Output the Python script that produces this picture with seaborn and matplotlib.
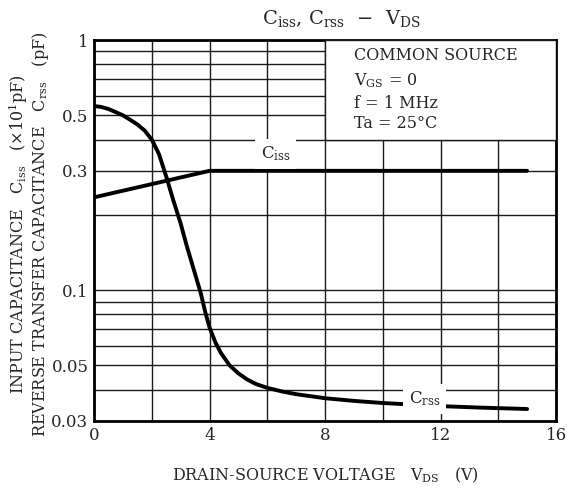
import numpy as np
import pandas as pd
import matplotlib
matplotlib.use('Agg')
import matplotlib.pyplot as plt
import seaborn as sns
from matplotlib.patches import Rectangle
from matplotlib.ticker import FixedLocator, NullFormatter

# Ciss (x10 pF) and Crss (pF) versus VDS (V)
vds_ciss = [0, 4, 15]
ciss = [0.235, 0.3, 0.3]

vds_crss = [0, 0.25, 0.5, 0.75, 1, 1.25, 1.5, 1.75, 2, 2.25, 2.5, 2.75, 3, 3.2, 3.4,
            3.55, 3.7, 3.85, 4, 4.2, 4.4, 4.7, 5, 5.3, 5.6, 6, 6.5, 7, 8, 9, 10, 11,
            12, 13.5, 15]
crss = [0.545, 0.54, 0.53, 0.515, 0.50, 0.48, 0.46, 0.435, 0.40, 0.35, 0.285, 0.228,
        0.185, 0.152, 0.127, 0.111, 0.097, 0.082, 0.071, 0.062, 0.056, 0.050, 0.0465,
        0.0440, 0.0422, 0.0407, 0.0394, 0.0384, 0.0370, 0.0361, 0.0354, 0.0349,
        0.0344, 0.0339, 0.0335]

x_ticks = [0, 4, 8, 12, 16]
y_ticks = [0.03, 0.05, 0.1, 0.3, 0.5, 1]
y_tick_labels = ['0.03', '0.05', '0.1', '0.3', '0.5', '1']

sns.set_style('white')
plt.rcParams['font.family'] = ['DejaVu Serif']
plt.rcParams['mathtext.fontset'] = 'dejavuserif'

fig = plt.figure(figsize=(5.67, 4.88), dpi=100)
ax = fig.add_axes([0.1658, 0.1373, 0.8148, 0.7807])

df_ciss = pd.DataFrame({'vds': vds_ciss, 'c': ciss})
df_crss = pd.DataFrame({'vds': vds_crss, 'c': crss})
sns.lineplot(data=df_ciss, x='vds', y='c', color='black', linewidth=2.8, ax=ax, zorder=4)
sns.lineplot(data=df_crss, x='vds', y='c', color='black', linewidth=2.8, ax=ax, zorder=4)

ax.set_yscale('log')
ax.set_xlim(0, 16)
ax.set_ylim(0.03, 1)

ax.xaxis.set_major_locator(FixedLocator(x_ticks))
ax.xaxis.set_minor_locator(FixedLocator([2, 6, 10, 14]))
ax.yaxis.set_major_locator(FixedLocator(y_ticks))
ax.set_yticklabels(y_tick_labels)
minor_y = [0.04, 0.06, 0.07, 0.08, 0.09, 0.2, 0.4, 0.6, 0.7, 0.8, 0.9]
ax.yaxis.set_minor_locator(FixedLocator(minor_y))
ax.yaxis.set_minor_formatter(NullFormatter())

ax.grid(True, which='both', color='#1a1a1a', linewidth=1.0)
ax.tick_params(which='both', length=0, labelsize=12, pad=4)

for sp in ax.spines.values():
    sp.set_linewidth(2)
    sp.set_color('black')

# conditions box
ax.add_patch(Rectangle((8, 0.4), 8, 0.6, facecolor='white', edgecolor='#1a1a1a',
                       linewidth=1.0, zorder=3))
ax.text(9.0, 0.865, 'COMMON SOURCE', fontsize=11.5, va='center', zorder=5)
ax.text(9.0, 0.685, r'V$_{\mathregular{GS}}$ = 0', fontsize=11.5, va='center', zorder=5)
ax.text(9.0, 0.555, 'f = 1 MHz', fontsize=11.5, va='center', zorder=5)
ax.text(9.0, 0.462, 'Ta = 25°C', fontsize=11.5, va='center', zorder=5)

ax.text(6.3, 0.35, r'C$_{\mathregular{iss}}$', fontsize=12, ha='center', va='center', zorder=5,
        bbox=dict(facecolor='white', edgecolor='none', pad=4))
ax.text(11.45, 0.0367, r'C$_{\mathregular{rss}}$', fontsize=12, ha='center', va='center', zorder=5,
        bbox=dict(facecolor='white', edgecolor='none', pad=4))

ax.set_xlabel(r'DRAIN-SOURCE VOLTAGE   V$_{\mathregular{DS}}$   (V)', fontsize=11.5, labelpad=16)
ax.set_ylabel('')
fig.text(0.032, 0.52, r'INPUT CAPACITANCE   C$_{\mathregular{iss}}$   ($\times$10$^{1}$pF)',
         rotation=90, ha='center', va='center', fontsize=11.5)
fig.text(0.072, 0.52, r'REVERSE TRANSFER CAPACITANCE   C$_{\mathregular{rss}}$   (pF)',
         rotation=90, ha='center', va='center', fontsize=11.5)

fig.text(0.603, 0.962, r'C$_{\mathregular{iss}}$, C$_{\mathregular{rss}}$  $-$  V$_{\mathregular{DS}}$',
         ha='center', va='center', fontsize=14)

fig.savefig('out.png', dpi=100)
